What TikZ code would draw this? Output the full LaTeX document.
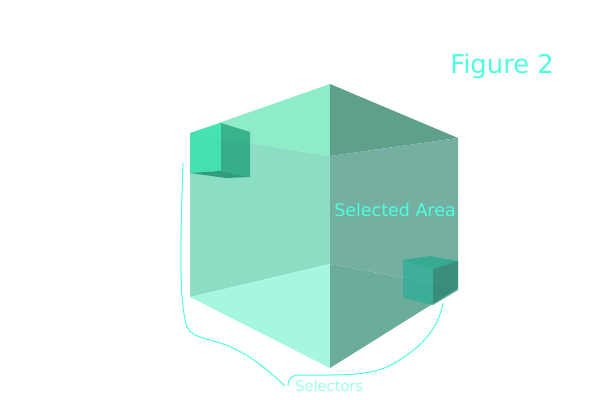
\documentclass[tikz,border=0pt]{standalone}
\usepackage{fontspec}
\setmainfont{DejaVu Sans}
\usetikzlibrary{calc}
\usepackage{xcolor}
\definecolor{labelcol}{HTML}{4DFFDE}
\definecolor{topleft}{HTML}{8EEDC8}
\definecolor{topright}{HTML}{5EA08A}
\definecolor{wallleft}{HTML}{8BDDC3}
\definecolor{wallright}{HTML}{75AFA2}
\definecolor{floorleft}{HTML}{A5F8DF}
\definecolor{floorright}{HTML}{6CAC9A}
\definecolor{selfront}{RGB}{40,225,170}
\definecolor{selside}{RGB}{20,155,115}
\definecolor{selbase}{RGB}{10,130,98}
\definecolor{lowfront}{RGB}{40,176,150}
\definecolor{lowside}{RGB}{33,128,108}
\definecolor{lowtop}{RGB}{30,168,140}
\begin{document}
\begin{tikzpicture}[
  x=0.75pt, y=-0.75pt,
  face/.style={draw=none},
  selface/.style={draw=none, fill opacity=0.7},
  label/.style={text=labelcol, inner sep=0pt},
  brace/.style={draw=labelcol, line width=0.75pt}
]
\useasboundingbox (0,0) rectangle (600,400);

% big cube
\fill[face, topleft] (190,133) -- (330,84) -- (330,156) -- cycle;
\fill[face, topright] (330,84) -- (458,138) -- (330,156) -- cycle;
\fill[face, wallleft] (190,133) -- (330,156) -- (330,264) -- (190,297) -- cycle;
\fill[face, wallright] (330,156) -- (458,138) -- (458,288) -- (330,264) -- cycle;
\fill[face, floorleft] (190,297) -- (330,264) -- (330,368) -- cycle;
\fill[face, floorright] (330,264) -- (458,288) -- (330,368) -- cycle;

% selector top left
\fill[selface, selfront] (190,133) -- (221,123) -- (221,171) -- (190,173) -- cycle;
\fill[selface, selside] (221,123) -- (250,132) -- (250,177) -- (221,171) -- cycle;
\fill[selface, selbase] (190,173) -- (221,171) -- (250,177) -- (226,178) -- cycle;

% selector bottom right
\fill[selface, lowtop] (403,260) -- (430,256) -- (458,261) -- (433,269) -- cycle;
\fill[selface, lowfront] (403,260) -- (433,269) -- (433,305) -- (403,298) -- cycle;
\fill[selface, lowside] (433,269) -- (458,261) -- (458,290) -- (433,305) -- cycle;

\node[label, font=\fontsize{19.4pt}{22pt}\selectfont, anchor=west] (fig) at (450,66) {Figure 2};
\node[label, font=\fontsize{13.1pt}{16pt}\selectfont, anchor=west] (area) at (334,209.5) {Selected Area};
\node[label, font=\fontsize{11pt}{13pt}\selectfont, anchor=west, inner sep=5.25pt, opacity=0.55] (sel) at (288,386) {Selectors};

\coordinate (leftend) at (183,163);
\coordinate (rightend) at (443,303);
\coordinate (leftfoot) at ($(sel.west)+(-3,0)$);

\draw[brace] (leftend) .. controls (181,230) and (178,300) .. (187,327)
  .. controls (193,340) and (215,338) .. (237,350)
  .. controls (255,359) and (270,372) .. (leftfoot);
\draw[brace] (rightend) .. controls (438,330) and (420,350) .. (387,367)
  .. controls (365,376) and (340,375) .. (300,375)
  .. controls (292,375) and (288,378) .. (sel.west);
\end{tikzpicture}
\end{document}
